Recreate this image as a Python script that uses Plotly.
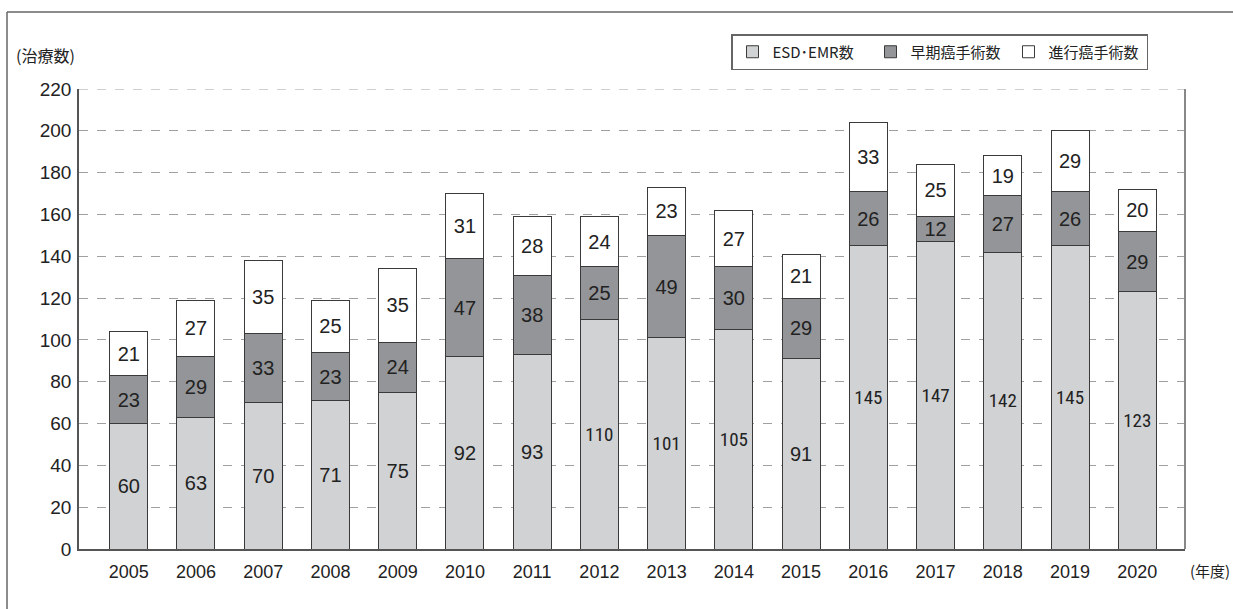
import plotly.graph_objects as go

years = [str(y) for y in range(2005, 2021)]
esd = [60, 63, 70, 71, 75, 92, 93, 110, 101, 105, 91, 145, 147, 142, 145, 123]
early = [23, 29, 33, 23, 24, 47, 38, 25, 49, 30, 29, 26, 12, 27, 26, 29]
adv = [21, 27, 35, 25, 35, 31, 28, 24, 23, 27, 21, 33, 25, 19, 29, 20]
y_ticks = list(range(0, 221, 20))

W, H = 1233, 609
L, R, T, B = 79, 1185, 89, 549

def px(x):
    return (x - L) / (R - L)

def py(y):
    return (B - y) / (B - T)

NUM_FONT = "Liberation Sans, Arial, sans-serif"
NARROW = "Liberation Sans Narrow, Roboto Condensed, Liberation Sans, Arial, sans-serif"
JP_FONT = "Noto Sans CJK JP, sans-serif"

def sizes(vals):
    return [19 if v >= 100 else 20 for v in vals]

def fams(vals):
    return [NARROW if v >= 100 else NUM_FONT for v in vals]

fig = go.Figure()
for name, vals, col in [("ESD･EMR数", esd, "#d1d2d4"),
                        ("早期癌手術数", early, "#939598"),
                        ("進行癌手術数", adv, "#ffffff")]:
    fig.add_trace(go.Bar(
        x=years, y=vals, name=name,
        marker=dict(color=col, line=dict(color="#3a3a3a", width=1)),
        text=[str(v) for v in vals],
        textposition="inside", insidetextanchor="middle",
        constraintext="none",
        textfont=dict(size=sizes(vals), family=fams(vals), color="#222222"),
        textangle=0,
    ))

fig.update_layout(
    barmode="stack",
    bargap=0.435,
    width=W, height=H,
    margin=dict(l=L, r=W - R, t=T, b=H - B, pad=0, autoexpand=False),
    paper_bgcolor="white", plot_bgcolor="white",
    uniformtext=dict(mode=False),
    showlegend=True,
    legend=dict(
        orientation="h", x=px(731), y=py(34), xanchor="left", yanchor="top",
        bordercolor="#666666", borderwidth=1.5,
        font=dict(family=JP_FONT, size=15, color="#222222"),
        traceorder="normal", itemwidth=30,
        entrywidth=93, entrywidthmode="pixels",
    ),
    xaxis=dict(
        type="category", range=[-0.74, 15.71],
        showline=True, linecolor="#555555", linewidth=1.5,
        ticks="", showgrid=False,
        tickfont=dict(family=NUM_FONT, size=18, color="#222222"),
        ticklabelstandoff=6,
    ),
    yaxis=dict(
        range=[0, 220], tickvals=y_ticks,
        showline=True, linecolor="#555555", linewidth=1.5,
        ticks="", showgrid=True, gridcolor="#a0a0a0", griddash="dash", gridwidth=1,
        zeroline=False,
        tickfont=dict(family=NUM_FONT, size=19, color="#222222"),
        ticklabelstandoff=2,
    ),
    shapes=[
        # dashed gridline at top of range
        dict(type="line", xref="paper", yref="y", x0=0, x1=1, y0=220, y1=220,
             line=dict(color="#a0a0a0", width=1, dash="dash"), layer="below"),
        # right border of plot area
        dict(type="line", xref="paper", yref="paper", x0=1, x1=1, y0=0, y1=1,
             line=dict(color="#888888", width=2)),
        # outer frame
        dict(type="line", xref="paper", yref="paper", x0=px(7), x1=px(7),
             y0=py(12), y1=py(620), line=dict(color="#666666", width=1.5)),
        dict(type="line", xref="paper", yref="paper", x0=px(7), x1=px(1240),
             y0=py(12), y1=py(12), line=dict(color="#666666", width=1.5)),
    ],
    annotations=[
        dict(text="(治療数)", xref="paper", yref="paper", x=px(14), y=py(55),
             xanchor="left", yanchor="middle", showarrow=False,
             font=dict(family=JP_FONT, size=16, color="#222222")),
        dict(text="(年度)", xref="paper", yref="paper", x=px(1188), y=py(570),
             xanchor="left", yanchor="middle", showarrow=False,
             font=dict(family=JP_FONT, size=15, color="#222222")),
    ],
)

fig.write_html("out.html")
